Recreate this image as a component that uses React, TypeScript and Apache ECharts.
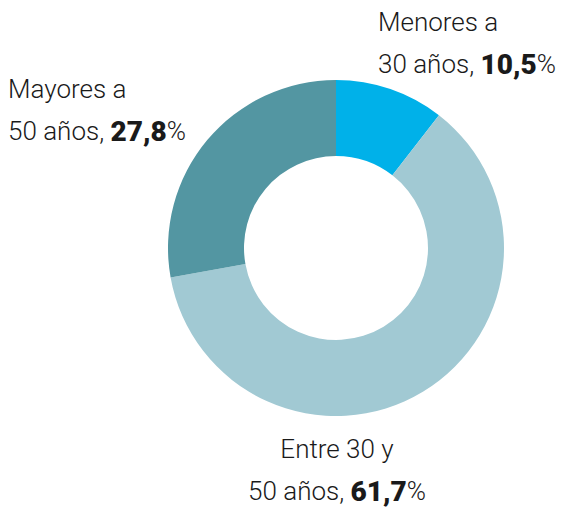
import React, { useEffect, useRef } from "react";
import * as echarts from "echarts";

const categories = ["Menores a 30 años", "Entre 30 y 50 años", "Mayores a 50 años"];
const values = [10.5, 61.7, 27.8];
const colors = ["#00b1e9", "#a1c9d3", "#5396a2"];
const labelLine1 = ["Menores a", "Entre 30 y", "Mayores a"];
const labelLine2 = ["30 años, ", "50 años, ", "50 años, "];
const valueLabels = ["10,5", "61,7", "27,8"];

const FONT = "Roboto";

function richLabel(i: number) {
  return `{n|${labelLine1[i]}}\n{n|${labelLine2[i]}}{b|${valueLabels[i]}}{n|%}`;
}

const rich = {
  n: { fontFamily: FONT, fontSize: 26, fontWeight: 300, fill: "#1a1a1a", lineHeight: 42 },
  b: { fontFamily: FONT, fontSize: 28, fontWeight: 900, fill: "#1a1a1a", lineHeight: 42 },
};

export default function App() {
  const ref = useRef<HTMLDivElement>(null);
  useEffect(() => {
    if (!ref.current) return;
    const chart = echarts.init(ref.current, null, { renderer: "svg" });
    chart.setOption({
      animation: false,
      series: [
        {
          type: "pie",
          center: [336, 248],
          radius: [92, 168],
          startAngle: 90,
          clockwise: true,
          label: { show: false },
          labelLine: { show: false },
          silent: true,
          data: categories.map((c, i) => ({
            name: c,
            value: values[i],
            itemStyle: { color: colors[i] },
          })),
        },
      ],
      graphic: [
        {
          type: "text",
          x: 378,
          y: 1,
          style: { text: richLabel(0), rich, align: "left" },
        },
        {
          type: "text",
          x: 8,
          y: 68,
          style: { text: richLabel(2), rich, align: "left" },
        },
        {
          type: "text",
          x: 337,
          y: 428,
          style: { text: richLabel(1), rich, align: "center" },
        },
      ],
    });
    return () => chart.dispose();
  }, []);
  return <div ref={ref} style={{ width: 572, height: 512, position: "absolute", left: 0, top: 0 }} />;
}
